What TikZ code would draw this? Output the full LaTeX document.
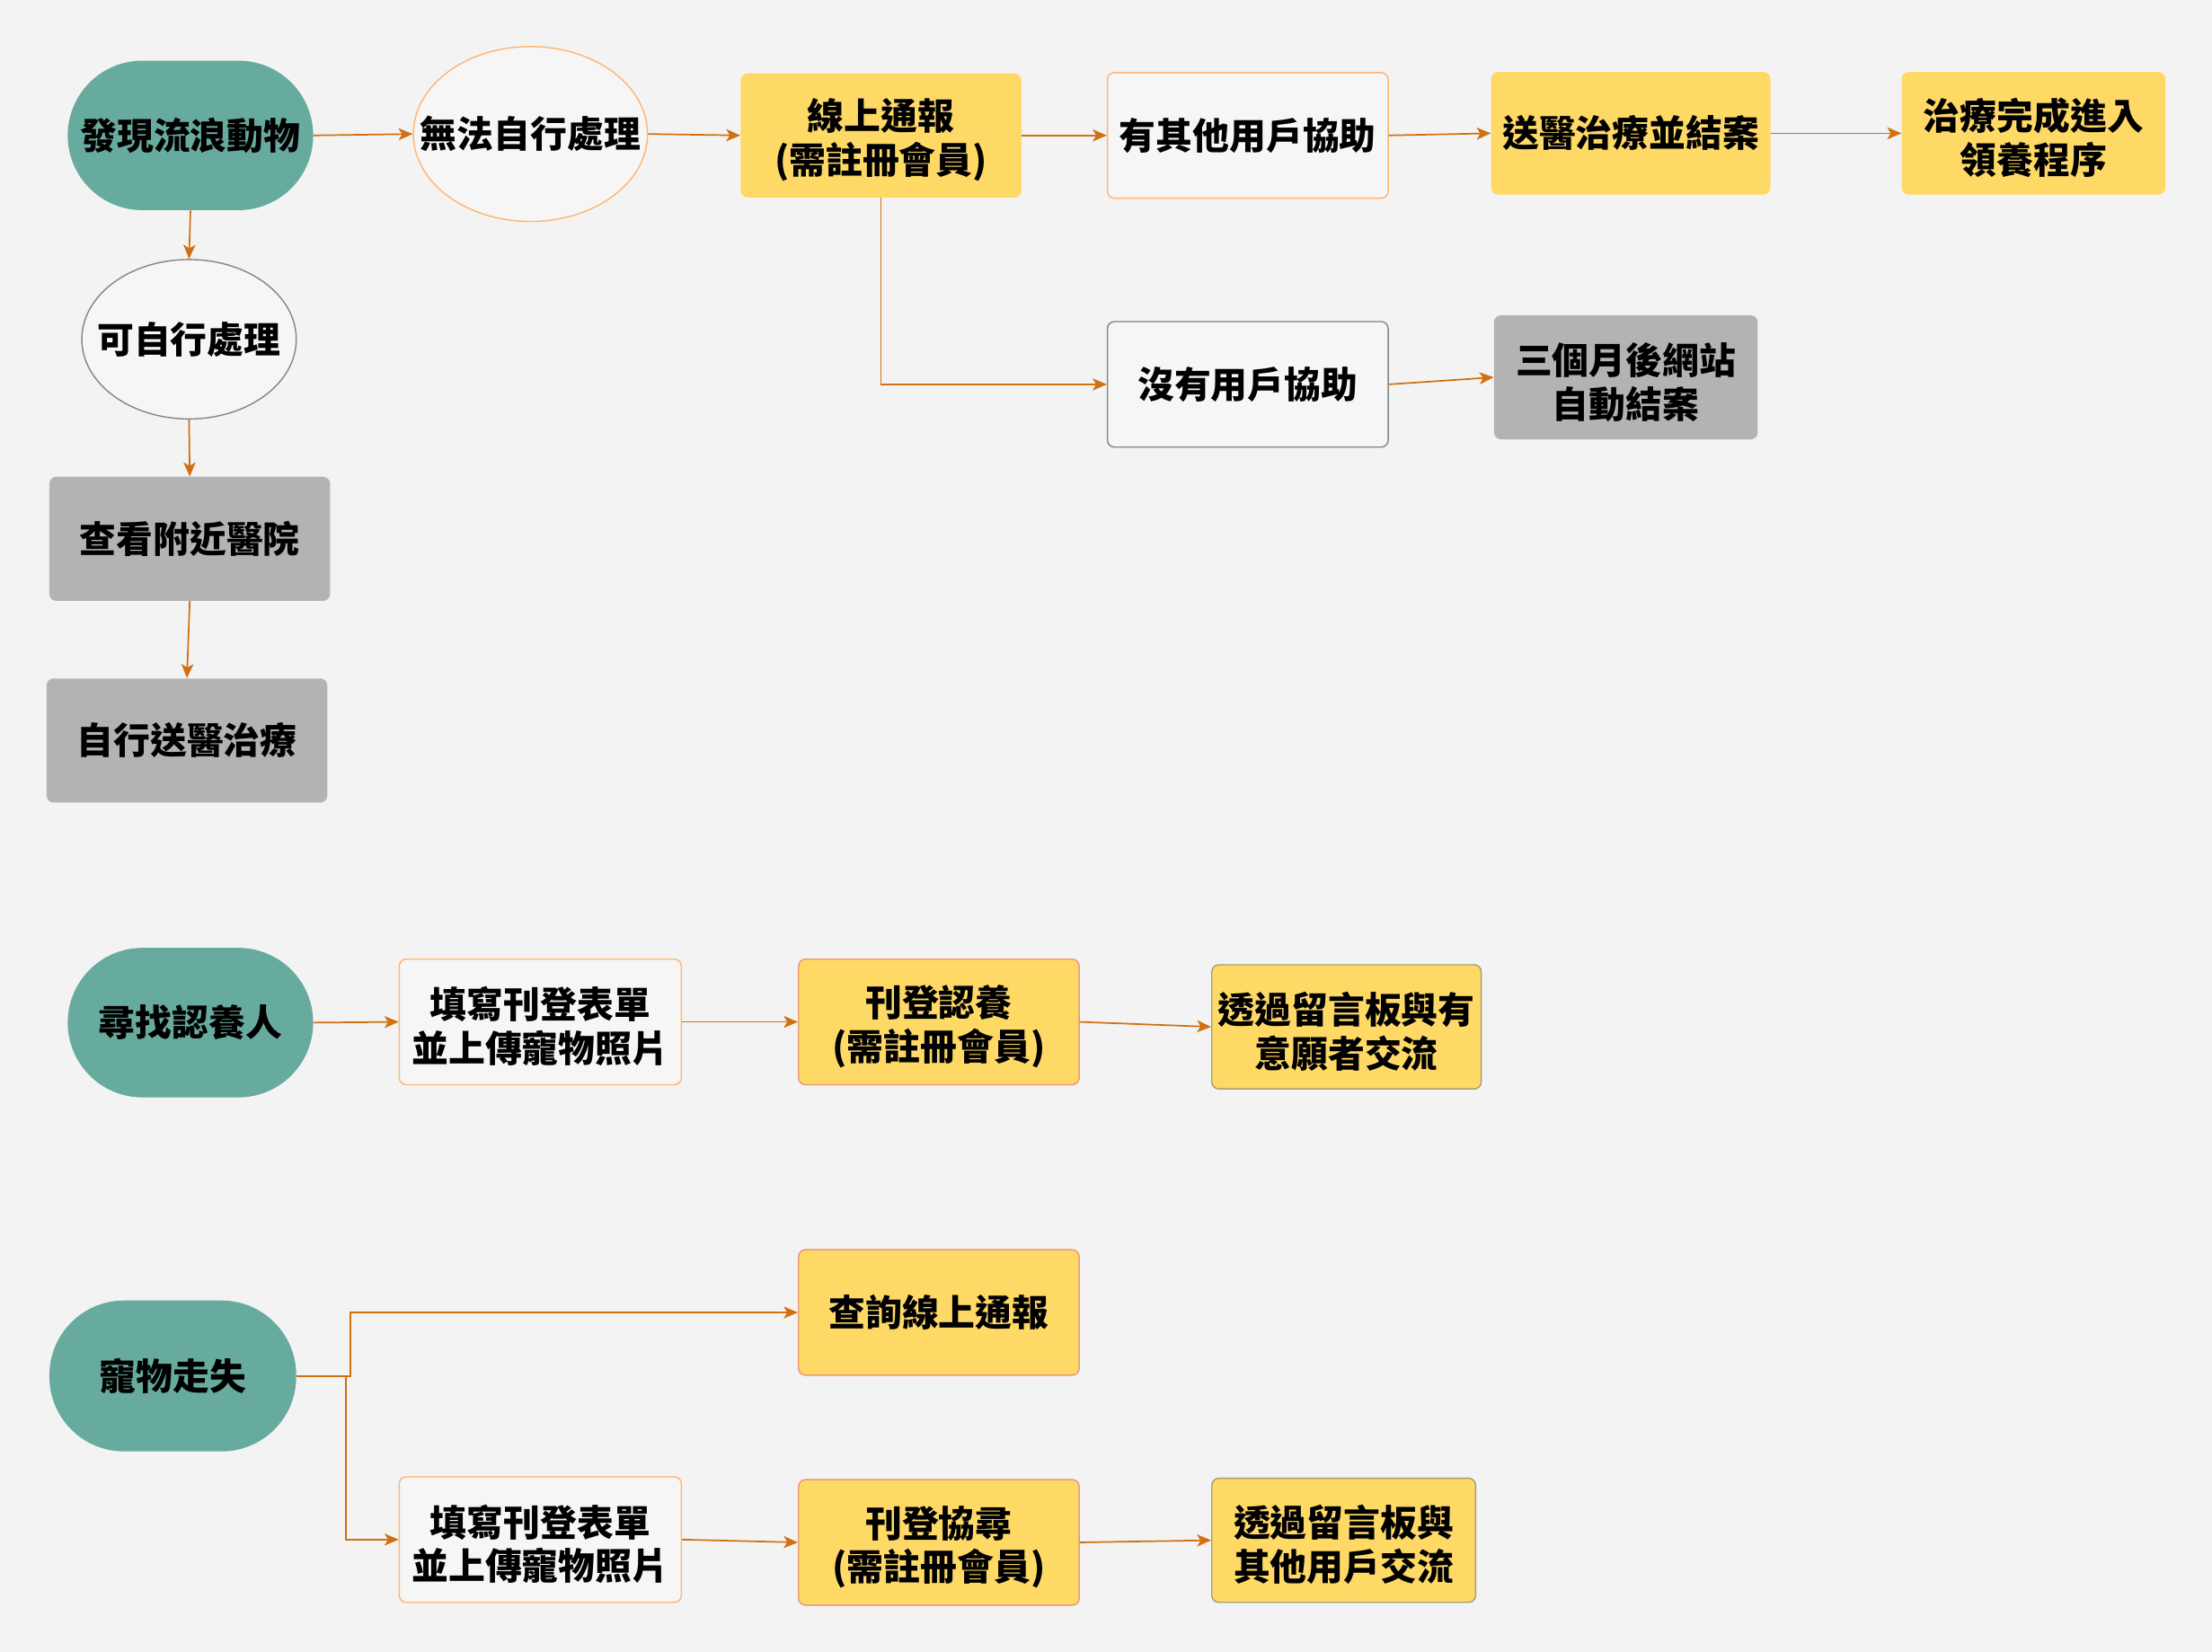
\documentclass[tikz,border=0pt]{standalone}
\usepackage{fontspec}
\newfontfamily\cjk{Noto Sans CJK TC}
\usepackage{tikz}
\usetikzlibrary{arrows.meta,shapes.geometric}

\definecolor{pagebg}{HTML}{F3F3F3}
\definecolor{tealfill}{HTML}{67AB9F}
\definecolor{yellowfill}{HTML}{FFD966}
\definecolor{greyfill}{HTML}{B3B3B3}
\definecolor{whitefill}{HTML}{F6F6F6}
\definecolor{orangeline}{HTML}{FFB570}
\definecolor{greyline}{HTML}{858585}
\definecolor{salmonline}{HTML}{E8977A}
\definecolor{oliveline}{HTML}{A39E74}
\definecolor{arrowline}{HTML}{D07010}

% taller first line, so that two-line labels sit centred
\newcommand{\firstline}{\rule{0pt}{29pt}}

\begin{document}
\begin{tikzpicture}[
    x=1pt, y=-1pt,
    every node/.style={color=black, font=\cjk\bfseries\fontsize{26}{31}\selectfont,
        align=center, inner sep=0pt},
    start shape/.style={fill=tealfill, rounded corners=53pt,
        minimum width=174pt, minimum height=106pt},
    oval/.style={ellipse, fill=whitefill, line width=0.9pt},
    plain box/.style={fill=whitefill, line width=0.9pt, rounded corners=5pt,
        minimum width=199pt, minimum height=89pt},
    yellow box/.style={fill=yellowfill, rounded corners=5pt,
        minimum width=199pt, minimum height=88pt},
    grey box/.style={fill=greyfill, rounded corners=5pt,
        minimum width=199pt, minimum height=88pt},
    flow line/.style={draw=arrowline, line width=1.1pt,
        -{Stealth[length=10pt, width=8.5pt, inset=2.5pt]}}
    ]

\useasboundingbox (0,0) rectangle (1568,1171);
\fill[pagebg] (0,0) rectangle (1568,1171);

% stray animal found
\node (find) [start shape] at (135,96) {發現流浪動物};
\node (cannot) [oval, draw=orangeline, minimum width=166pt, minimum height=124pt]
    at (376,95) {\makebox[0pt]{無法自行處理}};
\node (report) [yellow box] at (624.5,96) {\firstline 線上通報\\(需註冊會員)};
\node (helped) [plain box, draw=orangeline] at (884.5,96) {有其他用戶協助};
\node (treat) [yellow box, minimum width=198pt, minimum height=87pt]
    at (1156,94.5) {送醫治療並結案};
\node (adopt) [yellow box, minimum width=187pt, minimum height=87pt]
    at (1441.5,94.5) {\firstline 治療完成進入\\領養程序};
\node (nohelp) [plain box, draw=greyline] at (884.5,272.5) {沒有用戶協助};
\node (close) [grey box, minimum width=187pt]
    at (1152.5,267.5) {\firstline 三個月後網站\\自動結案};

\node (self) [oval, draw=greyline, minimum width=152pt, minimum height=113pt]
    at (134,240.5) {\makebox[0pt]{可自行處理}};
\node (hospital) [grey box] at (134.5,382) {查看附近醫院};
\node (selfsend) [grey box] at (132.5,525) {自行送醫治療};

\draw[flow line] (find.east) -- (cannot.west);
\draw[flow line] (cannot.east) -- (report.west);
\draw[flow line] (report.east) -- (helped.west);
\draw[flow line] (helped.east) -- (treat.west);
\draw[flow line] (treat.east) -- (adopt.west);
\draw[flow line] (report.south) |- (nohelp.west);
\draw[flow line] (nohelp.east) -- (close.west);
\draw[flow line] (find.south) -- (self.north);
\draw[flow line] (self.south) -- (hospital.north);
\draw[flow line] (hospital.south) -- (selfsend.north);

% looking for adopter
\node (seek) [start shape] at (135,725) {尋找認養人};
\node (formA) [plain box, draw=orangeline, minimum width=200pt]
    at (383,724.5) {\firstline 填寫刊登表單\\並上傳寵物照片};
\node (postA) [yellow box, draw=salmonline, line width=0.9pt, minimum height=89pt]
    at (665.5,724.5) {\firstline 刊登認養\\(需註冊會員)};
\node (talkA) [yellow box, draw=oliveline, line width=0.9pt, minimum width=191pt]
    at (954.5,728) {\firstline 透過留言板與有\\意願者交流};

\draw[flow line] (seek.east) -- (formA.west);
\draw[flow line] (formA.east) -- (postA.west);
\draw[flow line] (postA.east) -- (talkA.west);

% lost pet
\node (lost) [start shape, minimum width=175pt, minimum height=107pt]
    at (122.5,975.5) {寵物走失};
\node (query) [yellow box, draw=salmonline, line width=0.9pt, minimum height=89pt]
    at (665.5,930.5) {查詢線上通報};
\node (formB) [plain box, draw=orangeline, minimum width=200pt]
    at (383,1091.5) {\firstline 填寫刊登表單\\並上傳寵物照片};
\node (postB) [yellow box, draw=salmonline, line width=0.9pt, minimum height=89pt]
    at (665.5,1093.5) {\firstline 刊登協尋\\(需註冊會員)};
\node (talkB) [yellow box, draw=oliveline, line width=0.9pt, minimum width=187pt]
    at (952.5,1092) {\firstline 透過留言板與\\其他用戶交流};

\draw[flow line] (lost.east) -- ++(38,0) |- (query.west);
\draw[flow line] (lost.east) -- ++(35,0) |- (formB.west);
\draw[flow line] (formB.east) -- (postB.west);
\draw[flow line] (postB.east) -- (talkB.west);

\end{tikzpicture}
\end{document}
